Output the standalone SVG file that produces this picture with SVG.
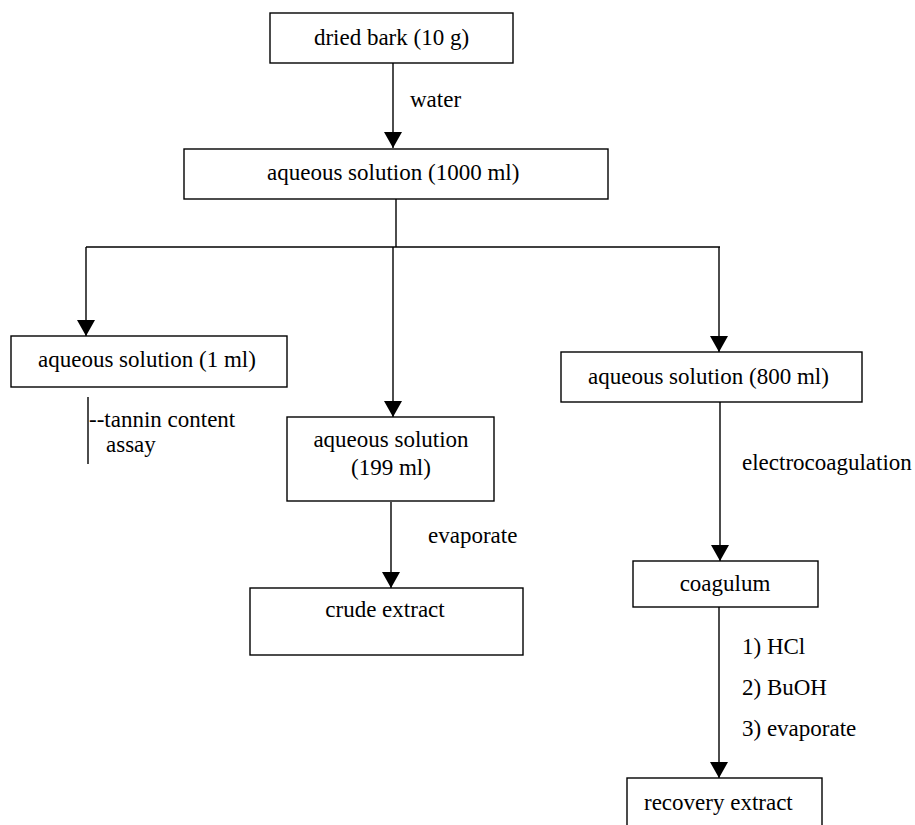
<svg xmlns="http://www.w3.org/2000/svg" width="915" height="825" viewBox="0 0 915 825">
<style>
.box{fill:#fff;stroke:#000;stroke-width:1.4}
.ln{fill:none;stroke:#000;stroke-width:1.4}
.ar{fill:none;stroke:#000;stroke-width:1.4;marker-end:url(#ah)}
text{font-family:"Liberation Serif","Times New Roman",serif;font-size:23px;fill:#000}
.c{text-anchor:middle}
</style>
<defs>
<marker id="ah" markerUnits="userSpaceOnUse" markerWidth="16" markerHeight="18" viewBox="0 0 16 18" refX="16" refY="9" orient="auto">
<path d="M0,0 L16,9 L0,18 Z" fill="#000"/>
</marker>
</defs>
<rect width="915" height="825" fill="#fff"/>
<g id="connectors">
<line class="ar" x1="393" y1="63" x2="393" y2="148"/>
<line class="ln" x1="396" y1="199" x2="396" y2="247"/>
<line class="ln" x1="86" y1="247" x2="720" y2="247"/>
<line class="ar" x1="86" y1="247" x2="86" y2="336"/>
<line class="ar" x1="393" y1="247" x2="393" y2="417"/>
<line class="ar" x1="719" y1="247" x2="719" y2="352"/>
<line class="ar" x1="391" y1="502" x2="391" y2="588"/>
<line class="ar" x1="720" y1="402" x2="720" y2="561"/>
<line class="ar" x1="719" y1="607" x2="719" y2="778"/>
<line class="ln" x1="88" y1="397" x2="88" y2="464"/>
<text x="410" y="107">water</text>
<text x="428" y="543">evaporate</text>
<text x="742" y="470">electrocoagulation</text>
<text x="742" y="654">1) HCl</text>
<text x="742" y="695">2) BuOH</text>
<text x="742" y="736">3) evaporate</text>
<text x="89" y="427">--tannin content</text>
<text x="106" y="452">assay</text>
</g>
<g id="n-bark">
<rect class="box" x="270" y="13" width="243" height="50"/>
<text class="c" x="391.5" y="45">dried bark (10 g)</text>
</g>
<g id="n-aq1000">
<rect class="box" x="184" y="149" width="424" height="50"/>
<text x="267" y="180">aqueous solution (1000 ml)</text>
</g>
<g id="n-aq1">
<rect class="box" x="11" y="336" width="276" height="51"/>
<text x="38" y="367">aqueous solution (1 ml)</text>
</g>
<g id="n-aq199">
<rect class="box" x="287" y="417" width="207" height="84"/>
<text class="c" x="391" y="447">aqueous solution</text>
<text class="c" x="391" y="475">(199 ml)</text>
</g>
<g id="n-aq800">
<rect class="box" x="561" y="352" width="301" height="50"/>
<text x="588" y="384">aqueous solution (800 ml)</text>
</g>
<g id="n-crude">
<rect class="box" x="250" y="588" width="273" height="67"/>
<text class="c" x="385" y="617">crude extract</text>
</g>
<g id="n-coag">
<rect class="box" x="633" y="561" width="185" height="46"/>
<text class="c" x="725" y="591">coagulum</text>
</g>
<g id="n-recovery">
<rect class="box" x="627" y="778" width="195" height="60"/>
<text x="644" y="810">recovery extract</text>
</g>
</svg>
